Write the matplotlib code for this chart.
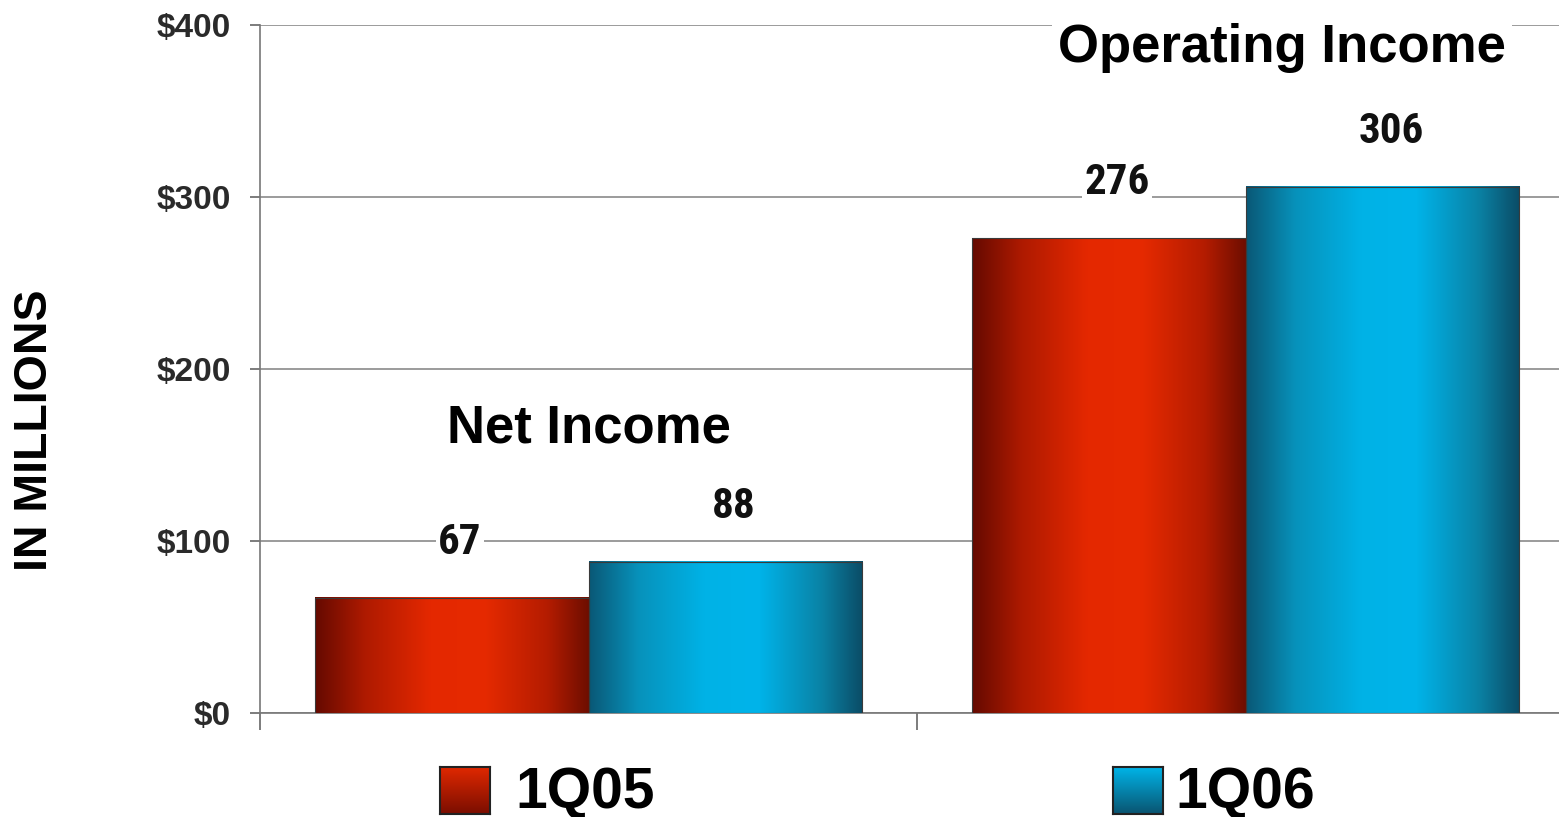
import numpy as np
import matplotlib
matplotlib.use("Agg")
import matplotlib.pyplot as plt
from matplotlib.colors import LinearSegmentedColormap
from matplotlib import font_manager
from matplotlib.font_manager import FontProperties

# ---- data ----
groups = ["Net Income", "Operating Income"]
series = ["1Q05", "1Q06"]
vals_1q05 = [67, 276]
vals_1q06 = [88, 306]
yticks = [0, 100, 200, 300, 400]
ytick_labels = ["$0", "$100", "$200", "$300", "$400"]

names = {f.name for f in font_manager.fontManager.ttflist}
main_font = "Liberation Sans" if "Liberation Sans" in names else "DejaVu Sans"


def bold_weight(w):
    if isinstance(w, str):
        return w.lower() in ("bold", "heavy", "black", "extra bold", "demibold", "semibold")
    return w >= 600


narrow_prop = None
prefs = ["liberation sans narrow", "roboto condensed", "dejavu sans condensed",
         "open sans condensed", "noto sans condensed"]
cands = []
for f in font_manager.fontManager.ttflist:
    nm = f.name.lower()
    fn = f.fname.lower()
    is_narrow = ("narrow" in nm or "condensed" in nm or "condensed" in fn or "narrow" in fn
                 or str(f.stretch) in ("condensed", "semi-condensed"))
    if is_narrow and bold_weight(f.weight) and "italic" not in fn and "oblique" not in fn \
            and f.style == "normal":
        rank = next((i for i, p in enumerate(prefs) if p in nm or p.replace(" ", "") in fn),
                    len(prefs))
        cands.append((rank, f.fname))
if cands:
    cands.sort()
    narrow_prop = FontProperties(fname=cands[0][1], size=31)
else:
    narrow_prop = FontProperties(family=main_font, weight="bold", size=28)

W, H = 1559, 817
fig = plt.figure(figsize=(W / 100, H / 100), dpi=100)
ax = fig.add_axes([260 / W, 1 - 713 / H, 1314 / W, 688 / H])
ax.set_xlim(-0.5, 1.5)
ax.set_ylim(0, 400)

red_cmap = LinearSegmentedColormap.from_list(
    "r", [(0.0, "#650a00"), (0.18, "#ae1a00"), (0.42, "#e42800"),
          (0.62, "#e62a00"), (0.85, "#b41c00"), (1.0, "#6e0e00")])
blue_cmap = LinearSegmentedColormap.from_list(
    "b", [(0.0, "#0a5876"), (0.18, "#0792bb"), (0.42, "#00b2e6"),
          (0.62, "#00b4ea"), (0.85, "#0a82a5"), (1.0, "#0b4c66")])

bw = 0.417
grad = np.linspace(0, 1, 256).reshape(1, -1)
x = np.arange(len(groups))
for vals, off, cmap in [(vals_1q05, -bw / 2, red_cmap), (vals_1q06, bw / 2, blue_cmap)]:
    bars = ax.bar(x + off, vals, width=bw, facecolor="none", edgecolor="#3a3a3a",
                  linewidth=0.8, zorder=4)
    for b in bars:
        x0, y0 = b.get_x(), b.get_y()
        ax.imshow(grad, cmap=cmap, aspect="auto", zorder=3,
                  extent=[x0, x0 + b.get_width(), y0, y0 + b.get_height()])
    for xi, v in zip(x + off, vals):
        ax.annotate(str(v), (xi, v), xytext=(6, 40), textcoords="offset points",
                    ha="center", va="center", fontproperties=narrow_prop,
                    color="#111111", zorder=6,
                    bbox=dict(boxstyle="square,pad=0.05", fc="white", ec="none"))
ax.set_xlim(-0.5, 1.5)
ax.set_ylim(0, 400)

# grid & axes
ax.set_yticks(yticks)
ax.set_yticklabels(ytick_labels, fontsize=24, fontweight="bold", family=main_font,
                   color="#2a2a2a")
ax.yaxis.grid(True, color="#8a8a8a", linewidth=1.2, zorder=0)
ax.set_axisbelow(True)
ax.tick_params(axis="y", direction="out", length=7, width=1.2, color="#666666", pad=14)
ax.set_xticks([-0.5, 0.5, 1.5])
ax.set_xticklabels([])
ax.tick_params(axis="x", direction="out", length=12, width=1.2, color="#666666")
for s in ["top", "right"]:
    ax.spines[s].set_visible(False)
for s in ["left", "bottom"]:
    ax.spines[s].set_color("#777777")
    ax.spines[s].set_linewidth(1.2)

# group titles
ax.text(0.0, 157, groups[0], ha="center", va="baseline", fontsize=38,
        fontweight="bold", family=main_font, color="black", zorder=6)
ax.text(1.0555, 378.5, groups[1], ha="center", va="baseline", fontsize=38,
        fontweight="bold", family=main_font, color="black", zorder=6,
        bbox=dict(boxstyle="square,pad=0.12", fc="white", ec="none"))

# y label
fig.text(35 / W, 1 - 430 / H, "IN MILLIONS", rotation=90, ha="center", va="center",
         fontsize=33.5, fontweight="bold", family=main_font, color="black")

# legend
vgrad = np.linspace(0, 1, 128).reshape(-1, 1)
leg_red = LinearSegmentedColormap.from_list("lr", ["#e02800", "#7a0e00"])
leg_blue = LinearSegmentedColormap.from_list("lb", ["#00b4e8", "#0a5470"])
for xl, cmap, label, xt in [(440, leg_red, series[0], 515), (1113, leg_blue, series[1], 1175)]:
    lax = fig.add_axes([xl / W, 1 - 814 / H, 50 / W, 47 / H])
    lax.imshow(vgrad, cmap=cmap, aspect="auto", extent=[0, 1, 0, 1])
    lax.set_xticks([])
    lax.set_yticks([])
    for s in lax.spines.values():
        s.set_color("#222222")
        s.set_linewidth(1.5)
    fig.text(xt / W, 1 - 808 / H, label, ha="left", va="baseline", fontsize=41,
             fontweight="bold", family=main_font, color="black")

fig.savefig("out.png", dpi=100)
